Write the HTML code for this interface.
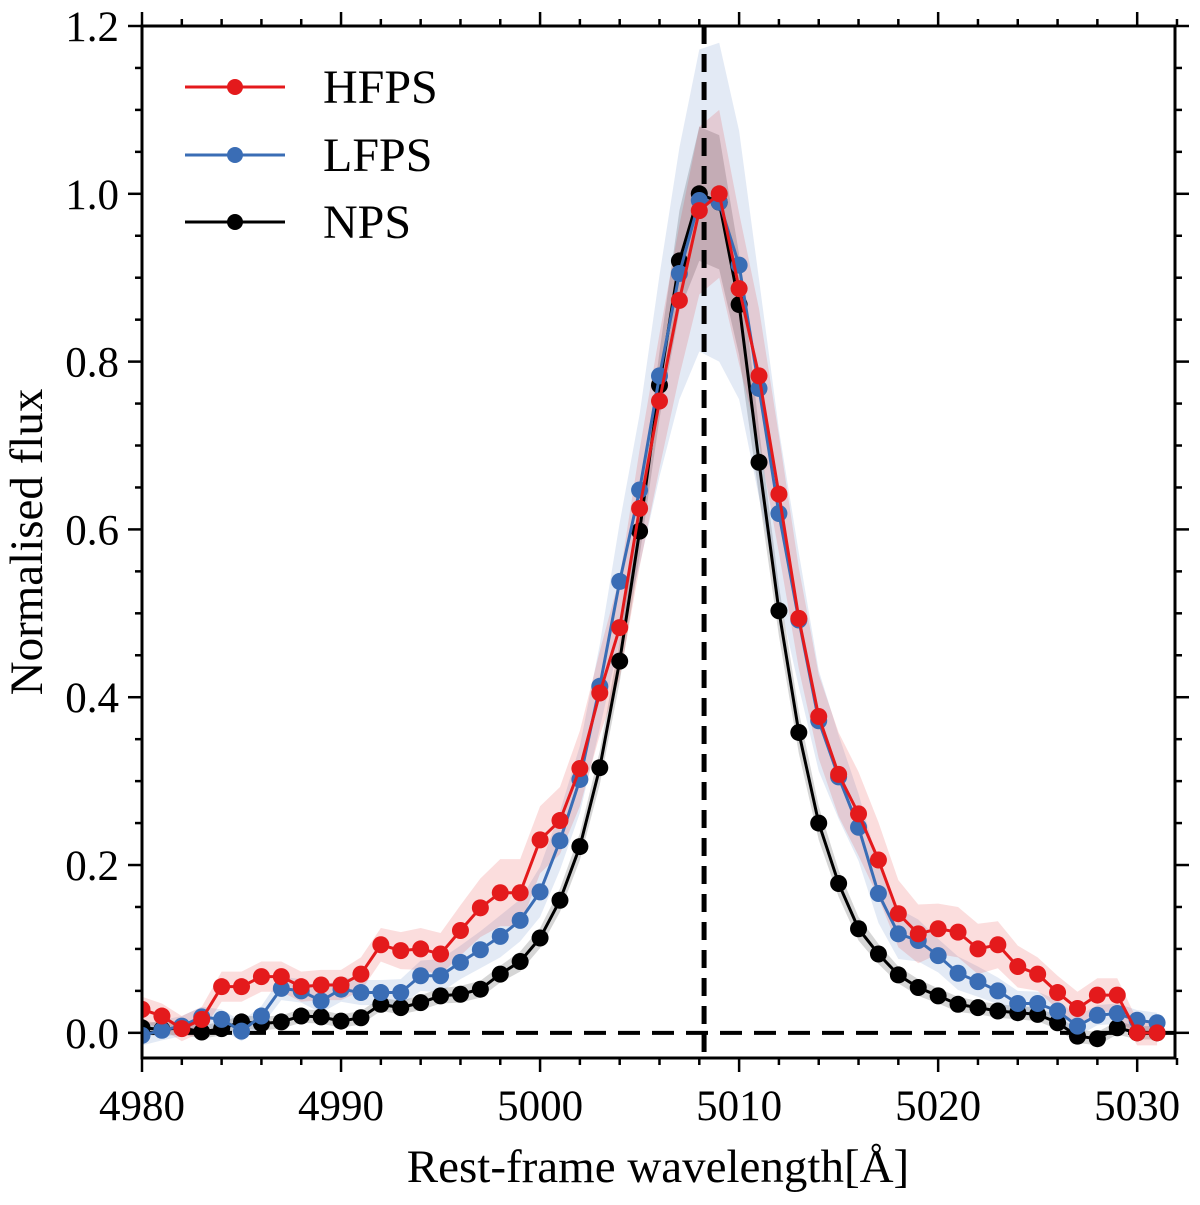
<!DOCTYPE html>
<html><head><meta charset="utf-8">
<style>
html,body{margin:0;padding:0;background:#fff;}
svg text{font-family:"Liberation Serif","DejaVu Serif",serif;fill:#000;}
</style></head>
<body>
<svg id="chart" width="1200" height="1200" viewBox="0 0 1200 1200" xmlns="http://www.w3.org/2000/svg">
<defs><clipPath id="clip"><rect x="142" y="26" width="1033" height="1032"/></clipPath></defs>
<g id="bands" clip-path="url(#clip)"></g>
<g id="refs" clip-path="url(#clip)"></g>
<g id="series" clip-path="url(#clip)"></g>
<g id="axes"></g>
<g id="legend"></g>
<text x="658" y="1182" font-size="47" text-anchor="middle">Rest-frame wavelength[Å]</text>
<text x="42" y="542" font-size="47" text-anchor="middle" transform="rotate(-90 42 542)">Normalised flux</text>
</svg>
<script>
const wavelengths = [];
for (let w = 4980; w <= 5031; w++) wavelengths.push(w);
const hfps = [0.028,0.020,0.005,0.016,0.055,0.055,0.067,0.067,0.055,0.057,
 0.057,0.070,0.105,0.098,0.100,0.094,0.122,0.149,0.167,0.167,
 0.230,0.253,0.315,0.405,0.483,0.625,0.753,0.873,0.980,1.000,
 0.887,0.783,0.642,0.494,0.377,0.308,0.261,0.206,0.142,0.118,
 0.124,0.120,0.100,0.105,0.079,0.070,0.048,0.029,0.045,0.045,0.000,0.000];
const hfpsErr = [0.015,0.015,0.015,0.015,0.018,0.018,0.018,0.018,0.018,0.018,
 0.018,0.02,0.02,0.022,0.025,0.025,0.03,0.035,0.04,0.04,
 0.04,0.04,0.045,0.05,0.06,0.07,0.08,0.09,0.1,0.1,
 0.09,0.08,0.07,0.06,0.05,0.05,0.05,0.045,0.04,0.035,
 0.03,0.03,0.03,0.028,0.025,0.02,0.02,0.02,0.02,0.02,0.015,0.015];
const lfps = [-0.003,0.003,0.008,0.019,0.016,0.002,0.020,0.053,0.050,0.038,
 0.052,0.048,0.048,0.048,0.068,0.068,0.084,0.099,0.115,0.134,
 0.168,0.229,0.302,0.413,0.538,0.647,0.783,0.905,0.992,0.990,
 0.915,0.768,0.619,0.492,0.372,0.305,0.245,0.166,0.118,0.110,
 0.092,0.071,0.061,0.050,0.035,0.035,0.026,0.008,0.021,0.023,0.015,0.012];
const lfpsErr = [0.012,0.012,0.012,0.012,0.012,0.012,0.012,0.014,0.014,0.014,
 0.015,0.015,0.015,0.016,0.018,0.02,0.02,0.022,0.025,0.025,
 0.03,0.035,0.04,0.05,0.07,0.09,0.12,0.15,0.18,0.19,
 0.16,0.13,0.1,0.08,0.06,0.05,0.04,0.035,0.03,0.025,
 0.02,0.02,0.018,0.016,0.015,0.014,0.013,0.012,0.012,0.012,0.012,0.012];
const nps = [0.006,0.004,0.006,0.001,0.005,0.013,0.011,0.013,0.020,0.019,
 0.014,0.018,0.034,0.030,0.036,0.044,0.046,0.052,0.070,0.085,
 0.113,0.158,0.222,0.316,0.443,0.598,0.772,0.920,1.000,0.990,
 0.868,0.680,0.503,0.358,0.250,0.178,0.124,0.094,0.069,0.054,
 0.044,0.034,0.030,0.026,0.024,0.022,0.012,-0.004,-0.007,0.006,0.000,0.000];
const npsErr = [0.008,0.008,0.008,0.008,0.008,0.008,0.008,0.008,0.008,0.008,
 0.008,0.008,0.008,0.008,0.009,0.009,0.01,0.01,0.01,0.012,
 0.012,0.014,0.016,0.02,0.025,0.03,0.04,0.06,0.08,0.08,
 0.06,0.04,0.03,0.025,0.02,0.016,0.014,0.012,0.01,0.01,
 0.009,0.009,0.008,0.008,0.008,0.008,0.008,0.008,0.008,0.008,0.008,0.008];
const xTickLabels = ["4980","4990","5000","5010","5020","5030"];
const yTickLabels = ["0.0","0.2","0.4","0.6","0.8","1.0","1.2"];
const refWavelength = [5008.24];

const X0=142, X1=1175, Y0=1058, Y1=26;
const XMIN=4980, XMAX=5031.9, YMIN=-0.03, YMAX=1.2;
const sx = w => X0 + (w-XMIN)/(XMAX-XMIN)*(X1-X0);
const sy = v => Y0 - (v-YMIN)/(YMAX-YMIN)*(Y0-Y1);
const NS="http://www.w3.org/2000/svg";
function mk(tag, parent, attrs){const e=document.createElementNS(NS,tag);for(const k in attrs)e.setAttribute(k,attrs[k]);parent.appendChild(e);return e;}

const bands=document.getElementById('bands'), series=document.getElementById('series'), refs=document.getElementById('refs'), axes=document.getElementById('axes'), legend=document.getElementById('legend');

const defs=[
 {name:'nps',vals:nps,err:npsErr,color:'#000000',fill:'rgba(0,0,0,0.16)'},
 {name:'lfps',vals:lfps,err:lfpsErr,color:'#3a6db5',fill:'rgba(58,109,181,0.14)'},
 {name:'hfps',vals:hfps,err:hfpsErr,color:'#e41a1c',fill:'rgba(228,26,28,0.15)'}
];
defs.forEach(s=>{
  const up=wavelengths.map((w,i)=>sx(w)+','+sy(s.vals[i]+s.err[i]));
  const dn=wavelengths.map((w,i)=>sx(w)+','+sy(s.vals[i]-s.err[i])).reverse();
  const b=mk('polygon',bands,{points:up.concat(dn).join(' '),fill:s.fill});
  
  
});
const hz=mk('line',refs,{x1:X0,x2:X1,y1:sy(0),y2:sy(0),stroke:'#000','stroke-width':4,'stroke-dasharray':'22 12'});


const vt=mk('line',refs,{x1:sx(refWavelength[0]),x2:sx(refWavelength[0]),y1:Y1,y2:Y0,stroke:'#000','stroke-width':5,'stroke-dasharray':'18 10'});



defs.forEach(s=>{
  const g=mk('g',series,{});
  
  
  const l=mk('polyline',g,{points:wavelengths.map((w,i)=>sx(w)+','+sy(s.vals[i])).join(' '),fill:'none',stroke:s.color,'stroke-width':3});
  
  
  wavelengths.forEach((w,i)=>{
    const c=mk('circle',g,{cx:sx(w),cy:sy(s.vals[i]),r:8.5,fill:s.color});
    
    
  });
});

const fr=mk('rect',axes,{x:X0,y:Y1,width:X1-X0,height:Y0-Y1,fill:'none',stroke:'#000','stroke-width':3});


for(let w=4980; w<=5032; w+=2){
  const major=(w%10===0), L=major?14:7, x=sx(w);
  mk('line',axes,{x1:x,x2:x,y1:Y0,y2:Y0+L,stroke:'#000','stroke-width':2.5});
  mk('line',axes,{x1:x,x2:x,y1:Y1,y2:Y1-L,stroke:'#000','stroke-width':2.5});
}
xTickLabels.forEach(t=>{
  const e=mk('text',axes,{x:sx(+t),y:1120,'font-size':43,'text-anchor':'middle'});
  e.textContent=t;
  
  
});
for(let k=0; k<=24; k++){
  const v=k*0.05, major=(k%4===0), L=major?14:7, y=sy(v);
  mk('line',axes,{x1:X0,x2:X0-L,y1:y,y2:y,stroke:'#000','stroke-width':2.5});
  mk('line',axes,{x1:X1,x2:X1+L,y1:y,y2:y,stroke:'#000','stroke-width':2.5});
}
yTickLabels.forEach(t=>{
  const e=mk('text',axes,{x:119,y:sy(+t)+15,'font-size':43,'text-anchor':'end'});
  e.textContent=t;
  
  
});
[['HFPS','#e41a1c',87],['LFPS','#3a6db5',155],['NPS','#000000',222]].forEach(([n,c,y])=>{
  const g=mk('g',legend,{});
  
  
  mk('line',g,{x1:185,x2:285,y1:y,y2:y,stroke:c,'stroke-width':3});
  mk('circle',g,{cx:235,cy:y,r:8,fill:c});
  const t=mk('text',g,{x:323,y:y+16,'font-size':48});
  t.textContent=n;
});
</script>
</body></html>
